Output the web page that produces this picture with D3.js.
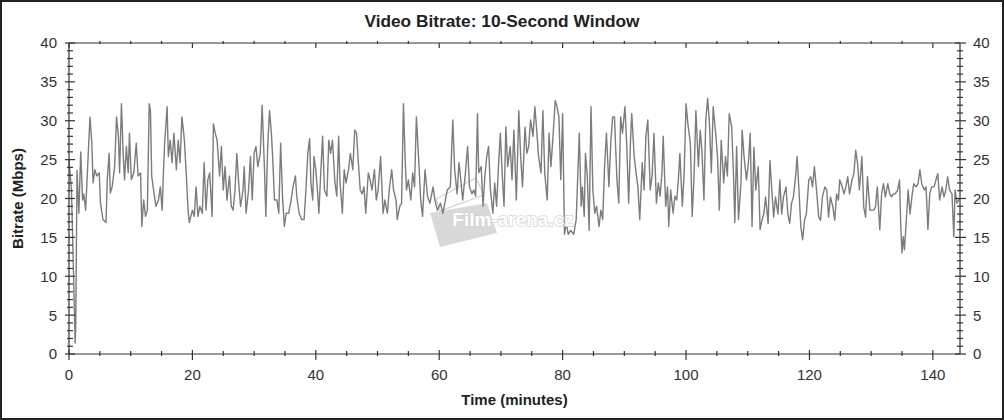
<!DOCTYPE html>
<html>
<head>
<meta charset="utf-8">
<script src="https://cdn.jsdelivr.net/npm/d3@7/dist/d3.min.js"></script>
<style>
html,body{margin:0;padding:0;background:#fff;}
svg{display:block;}
text{font-family:"Liberation Sans",Arial,sans-serif;}
</style>
</head>
<body>
<svg id="chart" width="1004" height="420"></svg>
<script>
const chartTitle = "Video Bitrate: 10-Second Window";
const xTitle = "Time (minutes)";
const yTitle = "Bitrate (Mbps)";
const watermark = "Film-arena.cz";
const xMajorTicks = [0, 20, 40, 60, 80, 100, 120, 140];
const yMajorTicks = [0, 5, 10, 15, 20, 25, 30, 35, 40];
const xDomain = [0, 144.4];
const yDomain = [0, 40];

const minutes = [
0, 0.4, 0.7, 1.0, 1.1, 1.3, 1.6, 1.9, 2.2, 2.4, 2.7, 3.1, 3.4, 3.7, 3.9, 4.2, 4.5, 4.9, 5.1, 5.5,
6.0, 6.2, 6.5, 6.7, 7.0, 7.4, 7.7, 8.0, 8.2, 8.5, 8.8, 9.0, 9.3, 9.6, 9.8, 10.1, 10.5, 10.9, 11.2, 11.6,
11.8, 12.1, 12.4, 12.7, 13.0, 13.2, 13.4, 13.7, 14.1, 14.5, 14.8, 15.1, 15.3, 15.5, 15.9, 16.1, 16.4, 16.7, 17.0, 17.4,
17.7, 18.0, 18.3, 18.7, 19.0, 19.3, 19.5, 20.0, 20.3, 20.6, 20.9, 21.2, 21.6, 21.9, 22.2, 22.5, 22.8, 23.2, 23.4, 23.7,
24.0, 24.4, 24.7, 25.0, 25.3, 25.6, 26.0, 26.3,
26.6, 26.9, 27.2, 27.5, 27.8, 28.2, 28.4, 28.7, 29.1, 29.4, 29.7, 30.0, 30.3, 30.6, 31.0, 31.3, 31.7, 31.9, 32.2, 32.5,
32.8, 33.0, 33.3, 33.7, 34.0, 34.3, 34.6, 34.9, 35.2, 35.6, 36.0, 36.3, 36.7, 36.9, 37.3, 37.7, 38.1, 38.4, 38.7, 39.0,
39.2, 39.5, 39.7, 40.0, 40.3, 40.5, 40.8, 41.1, 41.4, 41.8, 42.1, 42.4, 42.7, 43.1, 43.4, 43.7, 43.9, 44.3, 44.6, 44.9,
45.3, 45.6, 46.0, 46.3, 46.6, 46.9, 47.2, 47.5, 47.8, 48.1, 48.5, 48.8, 49.1, 49.5, 49.8, 50.1, 50.5, 50.9, 51.2, 51.6,
51.9, 52.3, 52.6, 53.0, 53.2, 53.6, 53.9,
54.2, 54.5, 54.7, 55.0, 55.4, 55.7, 56.0, 56.3, 56.7, 57.0, 57.3, 57.7, 58.1, 58.5, 59.0, 59.3, 59.7, 60.2, 60.6, 61.0,
61.3, 61.8, 62.2, 62.5, 62.9, 63.2, 63.5, 63.8, 64.2, 64.6, 64.9, 65.3, 65.6, 65.9, 66.2, 66.4, 66.8, 67.1, 67.4, 67.7,
68.0, 68.3, 68.7, 69.0, 69.3, 69.6, 69.9, 70.2, 70.5, 70.8, 71.1, 71.5, 71.8, 72.1, 72.5, 72.9, 73.2, 73.5, 73.9, 74.2,
74.5, 74.8, 75.2, 75.5, 75.8, 76.1, 76.5, 76.8, 77.1, 77.5, 77.8, 78.1, 78.4, 78.8, 79.1, 79.4, 79.7, 80.0, 80.3, 80.6,
80.9, 81.3, 81.8, 82.2,
82.7, 83.0, 83.2, 83.5, 83.7, 84.0, 84.3, 84.6, 84.9, 85.2, 85.5, 85.9, 86.2, 86.5, 86.8, 87.1, 87.5, 87.8, 88.1, 88.4,
88.8, 89.1, 89.4, 89.7, 90.1, 90.4, 90.7, 91.0, 91.2, 91.6, 91.9, 92.2, 92.5, 92.9, 93.2, 93.5, 93.8, 94.2, 94.5, 94.8,
95.2, 95.5, 95.8, 96.1, 96.3, 96.7, 97.0, 97.2, 97.5, 97.9, 98.2, 98.5, 98.8, 99.0, 99.4, 99.7, 100.0, 100.3, 100.7, 101.0,
101.3, 101.6, 102.0, 102.3, 102.6, 102.9, 103.2, 103.5, 103.8, 104.1, 104.4, 104.8, 105.1, 105.4, 105.7, 106.1, 106.4, 106.7, 107.0, 107.4,
107.7, 107.9, 108.2, 108.5, 108.9,
109.1, 109.4, 109.8, 110.1, 110.4, 110.7, 111.0, 111.3, 111.7, 112.0, 112.3, 112.6, 112.9, 113.3, 113.6, 113.9, 114.2, 114.5, 114.9, 115.2,
115.5, 115.8, 116.2, 116.5, 116.8, 117.1, 117.4, 117.8, 118.0, 118.3, 118.6, 118.9, 119.2, 119.5, 119.9, 120.2, 120.5, 120.8, 121.2, 121.5,
121.8, 122.1, 122.5, 122.8, 123.1, 123.4, 123.8, 124.1, 124.4, 124.7, 124.9, 125.3, 125.6, 125.9, 126.2, 126.5, 126.9, 127.2, 127.5, 127.8,
128.1, 128.5, 128.8, 129.1, 129.4, 129.8, 130.1, 130.4, 130.7, 131.0, 131.4, 131.7, 132.0, 132.3, 132.7, 133.0, 133.3, 133.6, 133.9, 134.3,
134.6, 134.8, 135.0, 135.2, 135.4, 135.6, 136.0, 136.3, 136.6, 136.9, 137.3, 137.6, 137.9, 138.2, 138.6, 138.9, 139.2, 139.5, 139.8, 140.2,
140.5, 140.8, 141.1, 141.5, 141.8, 142.1, 142.4, 142.7, 143.1, 143.4, 143.6, 143.9, 144.3
];

const bitrate = [
25, 21, 11.5, 1.4, 4, 23.6, 18.1, 26, 19.8, 20.6, 18.5, 25.4, 30.5, 27.1, 22, 23.7, 22.9, 23.3, 19.4, 17.3,
16.9, 22.4, 25.8, 20.7, 21.5, 24.1, 30.5, 28, 23.3, 32.2, 25.4, 22.4, 26.7, 23.3, 28.4, 22.4, 23.3, 27.1, 22.9, 23.3,
16.4, 19.8, 17.7, 18.5, 32.2, 31.3, 22.9, 21.1, 19, 19.8, 21.5, 18.5, 23.3, 27.1, 31.8, 25.4, 27.5, 24.6, 28.4, 23.7,
27.5, 24.6, 30.5, 27.5, 23.3, 18.5, 16.9, 18.5, 17.7, 21.5, 17.7, 19, 18.1, 24.6, 18.5, 22.4, 23.3, 17.7, 29.6, 28.4,
27.5, 22.9, 26.7, 21.1, 24.1, 19.8, 22.9, 19,
18.5, 21.1, 25.8, 22, 19, 21.1, 24.1, 18.1, 21.1, 25.4, 19.8, 25.8, 26.7, 24.1, 25.8, 32, 23.3, 17.7, 26.7, 31.3,
28.4, 25.4, 19.8, 19.8, 18.1, 27.1, 20.3, 16.4, 18.1, 18.1, 19.8, 21.5, 22.9, 20.3, 18.1, 17.3, 17.3, 21.1, 25.8, 27.7,
22, 19.8, 25.4, 23.7, 20.6, 18.1, 23.3, 28, 21.1, 20.3, 27.5, 25.8, 27.5, 22, 20.3, 28, 22.4, 18.1, 23.7, 22,
23.7, 25.8, 23.7, 28.8, 28.4, 24.6, 21.1, 20.6, 21.5, 18.1, 23.3, 22.4, 21.1, 23.7, 19.8, 21.1, 25.4, 18.1, 19.8, 18.1,
21.1, 23.7, 21.1, 19.8, 17.3, 19, 19.4,
32.2, 24.6, 21.1, 22.4, 19.8, 23.3, 21.5, 30.5, 24.6, 19.8, 17.7, 23.7, 20.3, 19.4, 21.5, 19.8, 18.5, 19.4, 18.1, 19.8,
21.1, 21.5, 30.1, 23.7, 20.6, 24.6, 22.4, 19.8, 22.9, 26.7, 21.5, 20.6, 21.1, 20.3, 30.9, 23.3, 24.1, 19, 22.9, 25.4,
26.7, 21.1, 18.1, 22, 19, 24.1, 28.4, 23.3, 19, 29.2, 24.1, 26.7, 22.4, 28.8, 19.8, 31.3, 25.4, 21.5, 29.2, 25.8,
26.7, 30.1, 28, 31.8, 28.8, 25.4, 23.3, 31.3, 23.3, 19.8, 28.4, 24.1, 27.5, 32.6, 31.8, 30.5, 22.4, 30.9, 15.4, 16.9,
15.4, 15.9, 15.4, 17.3,
28.4, 19, 21.5, 17.7, 25.8, 22.9, 15.9, 31.8, 21.1, 18.1, 19, 16.4, 18.5, 17.3, 24.1, 28.4, 21.5, 27.1, 30.5, 30.5,
22.4, 19.4, 30.5, 28.4, 31.8, 26.7, 19.4, 27.5, 30.9, 25.4, 23.3, 21.5, 17.3, 24.6, 21.1, 28, 30.1, 21.1, 22.9, 28.4,
19.4, 22, 20.3, 23.3, 28, 19, 21.5, 16.4, 21.1, 18.1, 20.3, 19.8, 22.9, 25.8, 19, 23.3, 32.2, 29.6, 27.1, 17.7,
22.9, 31.3, 24.1, 28.8, 25.8, 19.8, 30.1, 32.9, 29.6, 23.3, 31.8, 28.4, 25.4, 18.5, 27.5, 22, 25.4, 22.9, 30.9, 29.2,
22.9, 16.9, 26.7, 17.3, 22,
28.8, 25.4, 22.4, 24.5, 28.4, 16.4, 26.6, 21.1, 24.1, 16, 17.2, 18, 20.2, 16.8, 24.9, 21.1, 17.6, 20.2, 18, 22.4,
18, 20.2, 21.5, 18, 16.8, 19.4, 20.2, 23.2, 25.4, 21.1, 16.4, 14.7, 17.2, 18, 22.4, 22.8, 21.5, 24.1, 20.6, 17.6,
17.2, 20.2, 21.5, 21.1, 17.6, 20.2, 18.9, 17.2, 20.6, 19.8, 22.4, 21.5, 20.6, 21.5, 22.8, 20.6, 22.4, 23.2, 26.2, 24.5,
21.1, 25.4, 18.9, 17.6, 22.8, 18.5, 18.5, 18.5, 18.9, 21.5, 16, 20.6, 21.9, 20.2, 21.9, 20.6, 20.2, 20.6, 20.6, 21.1,
22.4, 16.4, 13.0, 15.1, 13.4, 16, 21.1, 18, 20.2, 21.9, 21.5, 21.9, 23.7, 21.9, 21.1, 21.5, 16, 20.6, 21.5, 21.5,
22.4, 23.2, 19.8, 21.5, 20.2, 21.1, 22.8, 21.1, 20.6, 15.1, 21.1, 19.4, 20
];

const svg = d3.select("#chart");
const W = 1004, H = 420;
const plot = {left: 69, right: 960, top: 43, bottom: 354};

svg.append("rect").attr("x", 1).attr("y", 1).attr("width", W - 2).attr("height", H - 2)
  .attr("fill", "#fff").attr("stroke", "#222").attr("stroke-width", 2);

const x = d3.scaleLinear().domain(xDomain).range([plot.left, plot.right]);
const y = d3.scaleLinear().domain(yDomain).range([plot.bottom, plot.top]);

const data = d3.zip(minutes, bitrate);

// watermark logo (under the line)
const logo = svg.append("g");
logo.append("polygon")
  .attr("points", "430,213 487,203 497,233 440,247")
  .attr("fill", "#d9d9d9");
logo.append("polygon")
  .attr("points", "436,199 476,178 484,195 440,211")
  .attr("fill", "none").attr("stroke", "#d0d0d0").attr("stroke-width", 1.2);

// data line
const line = d3.line().x(d => x(d[0])).y(d => y(d[1]));
svg.append("path").datum(data)
  .attr("d", line)
  .attr("fill", "none")
  .attr("stroke", "#7c7c7c")
  .attr("stroke-width", 1.4)
  .attr("stroke-linejoin", "round");

// watermark text (over the line)
svg.append("text")
  .attr("x", 513).attr("y", 226)
  .attr("text-anchor", "middle")
  .attr("font-size", 19).attr("font-weight", "bold")
  .attr("fill", "#ffffff").attr("stroke", "#d4d4d4").attr("stroke-width", 1.4)
  .attr("paint-order", "stroke")
  .text(watermark);

// frame
const axisColor = "#333";
const frame = svg.append("g").attr("stroke", axisColor).attr("stroke-width", 1.2).attr("fill", "none");
frame.append("line").attr("x1", plot.left).attr("x2", plot.right).attr("y1", plot.bottom).attr("y2", plot.bottom);
frame.append("line").attr("x1", plot.left).attr("x2", plot.right).attr("y1", plot.top).attr("y2", plot.top);
frame.append("line").attr("x1", plot.left).attr("x2", plot.left).attr("y1", plot.top).attr("y2", plot.bottom);
frame.append("line").attr("x1", plot.right).attr("x2", plot.right).attr("y1", plot.top).attr("y2", plot.bottom);

// ticks
const ticks = svg.append("g").attr("stroke", axisColor).attr("stroke-width", 1.2);
const yMinor = d3.range(yDomain[0], yDomain[1] + 0.001, 1).filter(v => v % 5 !== 0);
const xMinor = d3.range(0, xDomain[1], 5).filter(v => v % 20 !== 0);

yMajorTicks.forEach(v => {
  ticks.append("line").attr("x1", plot.left - 4).attr("x2", plot.left + 6).attr("y1", y(v)).attr("y2", y(v));
  ticks.append("line").attr("x1", plot.right - 5).attr("x2", plot.right + 6).attr("y1", y(v)).attr("y2", y(v));
});
yMinor.forEach(v => {
  ticks.append("line").attr("x1", plot.left - 2).attr("x2", plot.left + 4).attr("y1", y(v)).attr("y2", y(v));
  ticks.append("line").attr("x1", plot.right - 3).attr("x2", plot.right + 3).attr("y1", y(v)).attr("y2", y(v));
});
xMajorTicks.forEach(v => {
  ticks.append("line").attr("x1", x(v)).attr("x2", x(v)).attr("y1", plot.bottom - 4).attr("y2", plot.bottom + 6);
  ticks.append("line").attr("x1", x(v)).attr("x2", x(v)).attr("y1", plot.top).attr("y2", plot.top + 5);
});
xMinor.forEach(v => {
  ticks.append("line").attr("x1", x(v)).attr("x2", x(v)).attr("y1", plot.bottom - 3).attr("y2", plot.bottom + 2);
  ticks.append("line").attr("x1", x(v)).attr("x2", x(v)).attr("y1", plot.top - 2).attr("y2", plot.top + 1);
});

// tick labels
const lab = svg.append("g").attr("fill", "#333").attr("font-size", 15);
yMajorTicks.forEach(v => {
  lab.append("text").attr("x", plot.left - 12).attr("y", y(v)).attr("dy", "0.36em")
    .attr("text-anchor", "end").text(v);
  lab.append("text").attr("x", plot.right + 13).attr("y", y(v)).attr("dy", "0.36em")
    .attr("text-anchor", "start").text(v);
});
xMajorTicks.forEach(v => {
  lab.append("text").attr("x", x(v)).attr("y", plot.bottom + 26)
    .attr("text-anchor", "middle").text(v);
});

// titles
svg.append("text").attr("x", 502).attr("y", 27).attr("text-anchor", "middle")
  .attr("font-size", 17.3).attr("font-weight", "bold").attr("fill", "#222").text(chartTitle);
svg.append("text").attr("x", (plot.left + plot.right) / 2).attr("y", 405).attr("text-anchor", "middle")
  .attr("font-size", 15).attr("font-weight", "bold").attr("fill", "#222").text(xTitle);
svg.append("text").attr("transform", `translate(23,${(plot.top + plot.bottom) / 2}) rotate(-90)`)
  .attr("text-anchor", "middle")
  .attr("font-size", 15).attr("font-weight", "bold").attr("fill", "#222").text(yTitle);
</script>
</body>
</html>
